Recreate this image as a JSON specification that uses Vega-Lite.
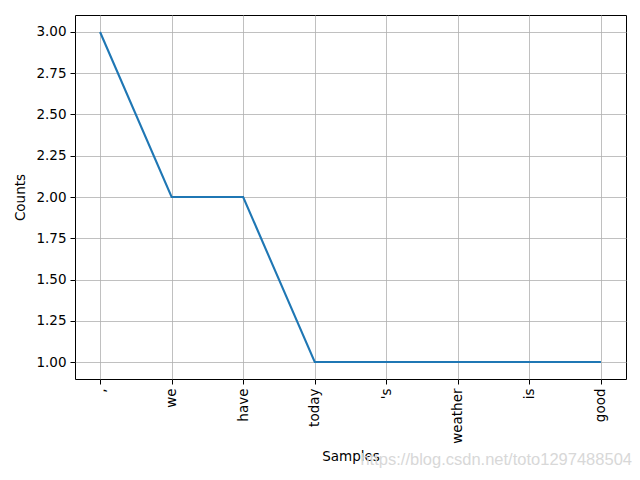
{
  "$schema": "https://vega.github.io/schema/vega-lite/v6.json",
  "autosize": {"type": "none"},
  "width": 551,
  "height": 364,
  "padding": {"left": 75, "top": 15, "right": 14, "bottom": 101},
  "background": "white",
  "config": {
    "font": "DejaVu Sans",
    "view": {"stroke": "black", "strokeWidth": 1},
    "axis": {
      "labelFont": "DejaVu Sans",
      "titleFont": "DejaVu Sans",
      "labelFontSize": 13.5,
      "titleFontSize": 13.5,
      "titleFontWeight": "normal",
      "labelColor": "black",
      "titleColor": "black",
      "grid": true,
      "gridColor": "#b0b0b0",
      "gridWidth": 0.8,
      "domain": false,
      "tickColor": "black",
      "tickSize": 5,
      "tickWidth": 1,
      "labelPadding": 4
    }
  },
  "title": {
    "text": "https://blog.csdn.net/toto1297488504",
    "orient": "bottom",
    "anchor": "end",
    "fontSize": 16.5,
    "font": "Liberation Sans",
    "fontWeight": "normal",
    "color": "#d8d8d8",
    "offset": -11,
    "dx": 6
  },
  "data": {
    "values": [
      {"word": ",", "count": 3},
      {"word": "we", "count": 2},
      {"word": "have", "count": 2},
      {"word": "today", "count": 1},
      {"word": "'s", "count": 1},
      {"word": "weather", "count": 1},
      {"word": "is", "count": 1},
      {"word": "good", "count": 1}
    ]
  },
  "mark": {"type": "line", "color": "#1f77b4", "strokeWidth": 2.1},
  "encoding": {
    "x": {
      "field": "word",
      "type": "ordinal",
      "sort": null,
      "scale": {"type": "point", "padding": 0.35},
      "axis": {"title": "Samples", "labelAngle": -90, "labelAlign": "right", "labelBaseline": "middle", "titlePadding": 6}
    },
    "y": {
      "field": "count",
      "type": "quantitative",
      "scale": {"domain": [0.897, 3.103], "nice": false, "zero": false},
      "axis": {"title": "Counts", "values": [1, 1.25, 1.5, 1.75, 2, 2.25, 2.5, 2.75, 3], "format": ".2f", "titlePadding": 8}
    }
  }
}
